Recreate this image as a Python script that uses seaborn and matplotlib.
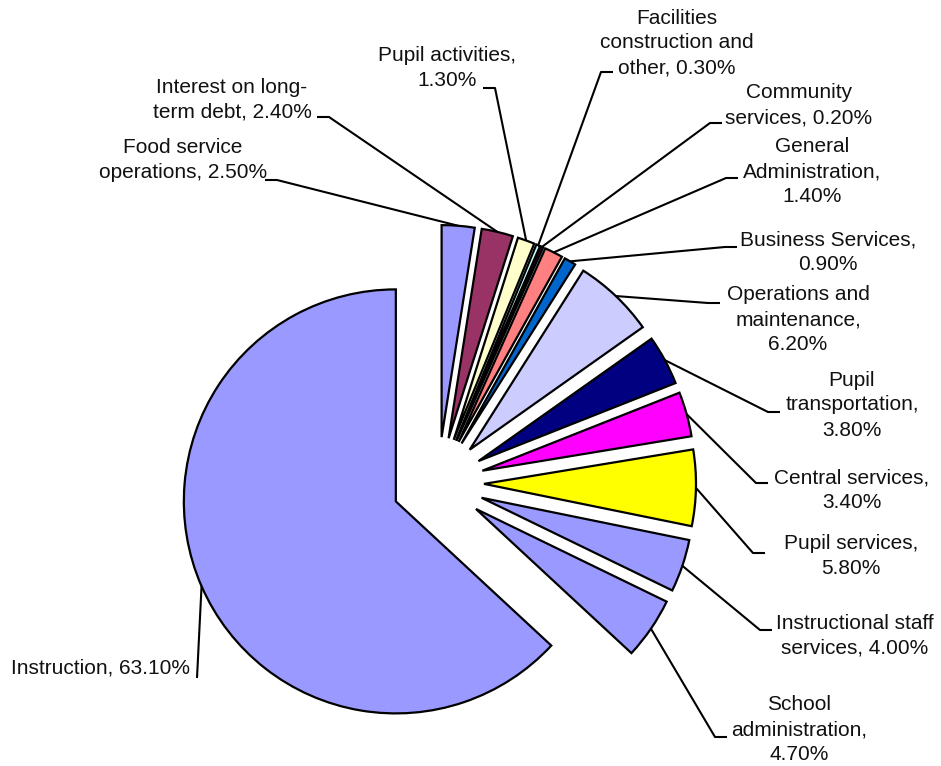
import textwrap
import numpy as np
import matplotlib
matplotlib.use("Agg")
import matplotlib.pyplot as plt
import seaborn as sns

# expenditure shares, in the order Excel draws them (clockwise from 12 o'clock)
categories = ["Food service operations", "Interest on long-term debt", "Pupil activities",
              "Facilities construction and other", "Community services", "General Administration",
              "Business Services", "Operations and maintenance", "Pupil transportation",
              "Central services", "Pupil services", "Instructional staff services",
              "School administration", "Instruction"]
shares = [2.5, 2.4, 1.3, 0.3, 0.2, 1.4, 0.9, 6.2, 3.8, 3.4, 5.8, 4.0, 4.7, 63.1]
colors = ["#9999FF", "#993366", "#FFFFCC", "#CCFFFF", "#660066", "#FF8080", "#0066CC",
          "#CCCCFF", "#000080", "#FF00FF", "#FFFF00", "#9999FF", "#9999FF", "#9999FF"]

# label layout (pixel coords, y from top): text centre, leader start, wrap width
label_xy = [(183, 160), (232, 100), (447, 68), (677, 43), (799, 105), (812, 172), (828, 252),
            (798, 320), (852, 405), (852, 490), (851, 556), (855, 636), (799, 730), (101, 668)]
leader_xy = [(265, 180), (317, 117), (483, 88), (613, 72), (722, 123), (738, 178), (737, 247),
             (720, 303), (780, 412), (768, 483), (765, 553), (772, 630), (727, 737), (197, 678)]
wrap_w = [17, 17, 17, 16, 15, 15, 18, 14, 15, 17, 15, 19, 15, 30]

W, H = 941, 766
R = 212          # pie radius in px
EXPLODE = 46     # offset of every slice in px (matplotlib uses data units)

sns.set_style("white")
plt.rcParams['font.family'] = ['Liberation Sans', 'DejaVu Sans']

fig = plt.figure(figsize=(W / 100, H / 100), dpi=100)
ax = fig.add_axes([0, 0, 1, 1])

wedges, _ = ax.pie(shares, colors=colors, startangle=90, counterclock=False,
                   explode=[EXPLODE] * len(shares), radius=R, center=(438, H - 483),
                   wedgeprops=dict(edgecolor="black", linewidth=1.6))

for i, w in enumerate(wedges):
    text = textwrap.fill(f"{categories[i]}, {shares[i]:.2f}%", wrap_w[i])
    tx, ty = label_xy[i]
    ax.text(tx, H - ty, text, ha="center", va="center", multialignment="center",
            fontsize=15, color="#111111", linespacing=1.4)

    # leader line: from the label, short horizontal stub, then to the arc midpoint
    ang = np.deg2rad((w.theta1 + w.theta2) / 2)
    ex = w.center[0] + w.r * np.cos(ang)
    ey = w.center[1] + w.r * np.sin(ang)
    lx, ly = leader_xy[i]
    ly = H - ly
    stub = 0 if categories[i] == "Instruction" else 12 * np.sign(ex - lx)
    ax.plot([lx, lx + stub, ex], [ly, ly, ey], color="black", lw=1.5,
            solid_capstyle="butt", zorder=0)

ax.set_xlim(0, W)
ax.set_ylim(0, H)
ax.set_aspect("equal")
ax.axis("off")

fig.savefig("out.png", dpi=100, facecolor="white")
